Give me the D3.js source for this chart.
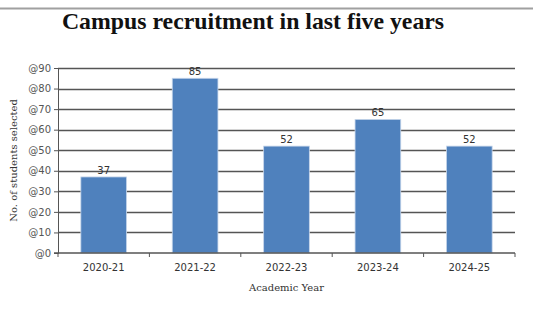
<!DOCTYPE html>
<html>
<head>
<meta charset="utf-8">
<script src="https://cdn.jsdelivr.net/npm/d3@7"></script>
<style>
  body { margin: 0; background: #fff; }
</style>
</head>
<body>
<div id="chart"></div>
<script>
// dati del grafico
const years = ["2020-21", "2021-22", "2022-23", "2023-24", "2024-25"];
const selected = [37, 85, 52, 65, 52];
const yTicks = [0, 10, 20, 30, 40, 50, 60, 70, 80, 90];

const width = 533, height = 312;
const margin = { top: 68, right: 18, bottom: 59, left: 58 };

const svg = d3.select("#chart").append("svg")
    .attr("width", width)
    .attr("height", height);

// linea grigia in alto
svg.append("line")
    .attr("x1", 0).attr("x2", width)
    .attr("y1", 8.5).attr("y2", 8.5)
    .attr("stroke", "#a0a0a0")
    .attr("stroke-width", 2);

// titolo
svg.append("text")
    .attr("x", 253).attr("y", 29)
    .attr("text-anchor", "middle")
    .style("font", "bold 23.8px 'Liberation Serif', serif")
    .attr("fill", "#111")
    .text("Campus recruitment in last five years");

const x = d3.scaleBand()
    .domain(years)
    .range([margin.left, width - margin.right])
    .paddingInner(0.5)
    .paddingOuter(0.25);

const y = d3.scaleLinear()
    .domain([0, 90])
    .range([height - margin.bottom, margin.top]);

// griglia
svg.append("g")
    .selectAll("line")
    .data(yTicks.slice(1))
    .join("line")
    .attr("x1", margin.left).attr("x2", width - margin.right)
    .attr("y1", d => Math.round(y(d)) + 0.5)
    .attr("y2", d => Math.round(y(d)) + 0.5)
    .attr("stroke", "#555")
    .attr("stroke-width", 1.3);

// barre
svg.append("g")
    .selectAll("rect")
    .data(years)
    .join("rect")
    .attr("x", d => x(d))
    .attr("width", x.bandwidth())
    .attr("y", (d, i) => y(selected[i]))
    .attr("height", (d, i) => y(0) - y(selected[i]))
    .attr("fill", "#4f81bd")
    .attr("stroke", "#c6d6ea")
    .attr("stroke-width", 0.8);

// etichette dei valori
svg.append("g")
    .selectAll("text")
    .data(years)
    .join("text")
    .attr("x", d => x(d) + x.bandwidth() / 2)
    .attr("y", (d, i) => y(selected[i]) - 3)
    .attr("text-anchor", "middle")
    .style("font", "10px 'DejaVu Sans', sans-serif")
    .attr("fill", "#333")
    .text((d, i) => selected[i]);

// asse y
const yAxis = svg.append("g")
    .attr("transform", `translate(${margin.left},0)`)
    .call(d3.axisLeft(y).tickValues(yTicks).tickSize(4).tickFormat(d => "@" + d));
yAxis.select(".domain").attr("stroke", "#555");
yAxis.selectAll(".tick line").attr("stroke", "#555");
yAxis.selectAll("text")
    .style("font", "10px 'DejaVu Sans', sans-serif")
    .attr("fill", "#555");

// asse x con tacche ai confini delle categorie
const xAxis = svg.append("g")
    .attr("transform", `translate(0,${y(0)})`);
xAxis.append("line")
    .attr("x1", margin.left - 4).attr("x2", width - margin.right)
    .attr("stroke", "#555").attr("stroke-width", 1.3);
xAxis.selectAll(".tk")
    .data(d3.range(years.length + 1))
    .join("line")
    .attr("class", "tk")
    .attr("x1", i => margin.left + i * (width - margin.left - margin.right) / years.length)
    .attr("x2", i => margin.left + i * (width - margin.left - margin.right) / years.length)
    .attr("y1", 0).attr("y2", 4)
    .attr("stroke", "#555");
xAxis.selectAll(".lbl")
    .data(years)
    .join("text")
    .attr("class", "lbl")
    .attr("x", d => x(d) + x.bandwidth() / 2)
    .attr("y", 18)
    .attr("text-anchor", "middle")
    .style("font", "10px 'DejaVu Sans', sans-serif")
    .attr("fill", "#333")
    .text(d => d);

// titoli degli assi
svg.append("text")
    .attr("x", (margin.left + width - margin.right) / 2)
    .attr("y", 291)
    .attr("text-anchor", "middle")
    .style("font", "10px 'DejaVu Serif', serif")
    .attr("fill", "#333")
    .text("Academic Year");

svg.append("text")
    .attr("transform", `translate(17,${(margin.top + height - margin.bottom) / 2}) rotate(-90)`)
    .attr("text-anchor", "middle")
    .style("font", "10px 'DejaVu Serif', serif")
    .attr("fill", "#333")
    .text("No. of students selected");
</script>
</body>
</html>
